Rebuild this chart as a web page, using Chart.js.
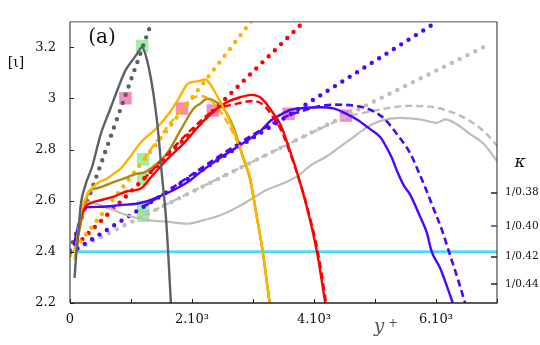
<!DOCTYPE html>
<html><head><meta charset="utf-8">
<script src="https://cdn.jsdelivr.net/npm/chart.js@4.4.0/dist/chart.umd.min.js"></script>
<style>html,body{margin:0;padding:0;background:#fff;}#wrap{width:540px;height:345px;position:relative;}</style>
</head><body><div id="wrap"><canvas id="c" width="540" height="345"></canvas></div>
<script>
// ---- data (x = y+, y = diagnostic function) ----
const darkGraySolid = [[74,2.298],[106,2.40],[139,2.475],[172,2.576],[254,2.662],[368,2.737],[499,2.857],[663,2.961],[794,3.044],[909,3.11],[1040,3.155],[1100,3.175],[1179,3.201],[1264,3.149],[1372,3.011],[1454,2.849],[1498,2.724],[1580,2.512],[1654,2.2]];
const orangeSolid = [[74,2.37],[106,2.426],[172,2.549],[226,2.593],[336,2.643],[445,2.668],[609,2.687],[717,2.706],[827,2.725],[991,2.774],[1146,2.824],[1428,2.886],[1646,2.949],[1809,3.011],[1929,3.058],[2083,3.067],[2219,3.074],[2301,3.055],[2437,2.999],[2574,2.936],[2682,2.874],[2792,2.805],[2902,2.724],[2944,2.699],[3054,2.549],[3160,2.4],[3272,2.2]];
const orangeDashed = [[1199,2.762],[1837,2.961],[1973,2.995],[2137,3.01],[2268,3.0],[2432,2.96],[2595,2.9],[2759,2.82],[2902,2.73],[2944,2.699],[3054,2.549],[3160,2.4],[3280,2.2]];
const oliveSolid = [[139,2.467],[205,2.542],[254,2.587],[308,2.637],[445,2.649],[663,2.668],[881,2.687],[1100,2.706],[1208,2.71],[1318,2.725],[1592,2.786],[1809,2.874],[2027,2.961],[2137,2.98],[2247,2.999],[2355,2.992],[2518,2.961],[2682,2.886],[2846,2.762],[2944,2.692],[3054,2.549],[3160,2.4],[3272,2.2]];
const redSolid = [[106,2.437],[172,2.531],[254,2.576],[364,2.593],[499,2.602],[717,2.616],[937,2.637],[1154,2.647],[1351,2.699],[1592,2.762],[1863,2.824],[2137,2.899],[2355,2.949],[2574,2.986],[2792,3.005],[2984,3.014],[3147,2.999],[3311,2.949],[3447,2.899],[3583,2.812],[3720,2.712],[3884,2.574],[4048,2.4],[4184,2.2]];
const redDashed = [[1199,2.683],[2342,2.951],[2497,2.968],[2682,2.976],[2846,2.986],[3010,2.99],[3174,2.974],[3337,2.924],[3463,2.875],[3594,2.795],[3733,2.7],[3900,2.565],[4064,2.4],[4200,2.2]];
const blueSolid = [[62,2.425],[144,2.512],[200,2.556],[282,2.574],[499,2.576],[827,2.583],[1154,2.591],[1428,2.613],[1700,2.642],[1973,2.68],[2137,2.712],[2464,2.768],[2792,2.818],[3119,2.872],[3283,2.912],[3447,2.936],[3611,2.955],[3884,2.964],[4102,2.966],[4320,2.961],[4539,2.939],[4703,2.918],[4921,2.88],[5085,2.849],[5167,2.818],[5276,2.768],[5358,2.718],[5466,2.662],[5576,2.624],[5740,2.537],[5849,2.475],[5931,2.4],[6067,2.337],[6275,2.2]];
const blueDashed = [[1199,2.576],[3583,2.934],[3775,2.949],[4048,2.968],[4320,2.976],[4593,2.974],[4867,2.961],[5138,2.924],[5358,2.861],[5576,2.786],[5740,2.699],[5849,2.637],[5931,2.587],[6095,2.487],[6231,2.387],[6367,2.287],[6477,2.2]];
const graySolid = [[282,2.595],[336,2.593],[609,2.574],[937,2.543],[1264,2.524],[1592,2.518],[1919,2.51],[2191,2.524],[2464,2.543],[2738,2.574],[3010,2.612],[3229,2.643],[3501,2.668],[3747,2.699],[3938,2.737],[4212,2.774],[4430,2.812],[4647,2.849],[4867,2.887],[5085,2.912],[5412,2.924],[5740,2.918],[6013,2.905],[6149,2.918],[6340,2.899],[6558,2.861],[6776,2.824],[7000,2.755]];
const grayDashed = [[1199,2.541],[4265,2.90],[4524,2.928],[4921,2.949],[5249,2.964],[5576,2.971],[5904,2.968],[6231,2.949],[6558,2.912],[6832,2.861],[7000,2.815]];
const darkGrayDotted = [[0,2.406],[1340,3.30]];
const orangeDotted = [[0,2.387],[2972,3.302]];
const redDotted = [[0,2.402],[3840,3.302]];
const blueDotted = [[0,2.395],[6029,3.302]];
const grayDotted = [[0,2.398],[6897,3.215]];
const cyanLevel = [[0,2.4],[7000,2.4]];
const pinkSquares = [[909,3.001],[1837,2.961],[2342,2.953],[3583,2.94],[4524,2.933]];
const greenSquares = [[1182,3.205],[1199,2.762],[1199,2.686],[1199,2.577],[1199,2.541]];
// ---- ticks ----
const xTicks = [0,1000,2000,3000,4000,5000,6000,7000];
const xTickLabels = ['0','','2.10\u00B3','','4.10\u00B3','','6.10\u00B3',''];
const yTicks = [2.2,2.4,2.6,2.8,3,3.2];
const kappaTicks = [1/0.38,1/0.40,1/0.42,1/0.44];
const kappaLabels = ['1/0.38','1/0.40','1/0.42','1/0.44'];

const SERIF = "'DejaVu Serif','Liberation Serif',serif";
const C = {dark:'#5b6166', orange:'#FFB300', olive:'#B08A12', red:'#FF0000', blue:'#4A06FF', gray:'#BDBDBD', cyan:'#52D8F4'};

function pts(a){return a.map(p=>({x:p[0],y:p[1]}));}
function solid(d,c,w,o){return {data:pts(d),borderColor:c,borderWidth:w,pointRadius:0,fill:false,cubicInterpolationMode:'monotone',order:o};}
function dashed(d,c,w,o){return {data:pts(d),borderColor:c,borderWidth:w,borderDash:[7,4],pointRadius:0,fill:false,cubicInterpolationMode:'monotone',order:o};}
function dotted(d,c){return {data:pts(d),borderColor:c,borderWidth:4.4,borderDash:[0,8.7],borderCapStyle:'round',pointRadius:0,fill:false,tension:0,order:8};}
function squares(d,c){return {data:pts(d),showLine:false,pointStyle:'rect',pointRadius:8.8,pointHoverRadius:8.8,pointBackgroundColor:c,pointBorderColor:'rgba(0,0,0,0)',pointBorderWidth:0,order:20};}

const datasets = [
  solid(darkGraySolid,C.dark,2.4,1),
  solid(orangeSolid,C.orange,2.4,3),
  dashed(orangeDashed,C.orange,2.4,2),
  solid(oliveSolid,C.olive,2.4,4),
  solid(redSolid,C.red,2.4,3),
  dashed(redDashed,C.red,2.4,2),
  solid(blueSolid,C.blue,2.4,3),
  dashed(blueDashed,C.blue,2.6,2),
  solid(graySolid,C.gray,2.2,6),
  dashed(grayDashed,C.gray,2.4,6),
  dotted(darkGrayDotted,C.dark),
  dotted(orangeDotted,C.orange),
  dotted(redDotted,C.red),
  dotted(blueDotted,C.blue),
  dotted(grayDotted,C.gray),
  {data:pts(cyanLevel),borderColor:C.cyan,borderWidth:3,pointRadius:0,tension:0,order:15},
  squares(pinkSquares,'rgba(242,110,175,0.8)'),
  squares(greenSquares,'rgba(130,235,130,0.75)')
];

const decor = {id:'decor', afterDraw(chart){
  const ctx=chart.ctx, a=chart.chartArea, sx=chart.scales.x, sy=chart.scales.y, sk=chart.scales.y1;
  ctx.save();
  ctx.lineCap='butt';
  ctx.strokeStyle='#8c8c8c'; ctx.lineWidth=1.5;
  ctx.beginPath(); ctx.moveTo(a.left,a.top); ctx.lineTo(a.right,a.top); ctx.stroke();
  ctx.strokeStyle='#222'; ctx.lineWidth=1;
  ctx.beginPath(); ctx.moveTo(a.left,a.top); ctx.lineTo(a.left,a.bottom); ctx.stroke();
  ctx.beginPath(); ctx.moveTo(a.right,a.top); ctx.lineTo(a.right,a.bottom+0.5); ctx.stroke();
  ctx.lineWidth=1.5;
  ctx.beginPath(); ctx.moveTo(a.left,a.bottom); ctx.lineTo(a.right,a.bottom); ctx.stroke();
  ctx.lineWidth=1; ctx.strokeStyle='#222';
  xTicks.forEach(v=>{const px=Math.round(sx.getPixelForValue(v))+0.5; ctx.beginPath(); ctx.moveTo(px,a.bottom); ctx.lineTo(px,a.bottom-4); ctx.stroke();});
  yTicks.forEach(v=>{const py=Math.round(sy.getPixelForValue(v))+0.5; ctx.beginPath(); ctx.moveTo(a.left,py); ctx.lineTo(a.left+4,py); ctx.stroke();});
  ctx.lineWidth=1.5;
  kappaTicks.forEach((v,i)=>{const py=Math.round(sk.getPixelForValue(v)); ctx.strokeStyle=(i===1)?'#2a3cc8':'#222'; ctx.beginPath(); ctx.moveTo(a.right-6,py); ctx.lineTo(a.right,py); ctx.stroke();});
  ctx.fillStyle='#111'; ctx.textAlign='center'; ctx.textBaseline='middle';
  ctx.font='20px '+SERIF; ctx.fillText('(a)',102,38);
  ctx.font='14px '+SERIF; ctx.fillText('[\u03B9]',16,63);
  ctx.font='italic 17px '+SERIF; ctx.fillText('\u03BA',520,163);
  ctx.textAlign='left'; ctx.textBaseline='alphabetic';
  ctx.fillStyle='#555';
  ctx.font='italic 18px '+SERIF; ctx.fillText('y',374,332);
  ctx.font='12px '+SERIF; ctx.fillText('+',388,327);
  ctx.restore();
}};

new Chart(document.getElementById('c'), {
  type:'line',
  data:{datasets},
  options:{
    responsive:false, animation:false, devicePixelRatio:1,
    layout:{padding:{top:9,left:0,right:0,bottom:0}},
    plugins:{legend:{display:false},tooltip:{enabled:false}},
    scales:{
      x:{type:'linear',position:'bottom',min:0,max:7000,
        grid:{display:false,drawTicks:false},border:{display:false},
        afterBuildTicks:s=>{s.ticks=xTicks.map(v=>({value:v}));},
        afterFit:s=>{s.height=42;},
        ticks:{autoSkip:false,maxRotation:0,padding:9,color:'#111',font:{family:SERIF,size:13},callback:(v,i)=>xTickLabels[i]}},
      y:{type:'linear',position:'left',min:2.2,max:3.3,
        grid:{display:false,drawTicks:false},border:{display:false},
        afterBuildTicks:s=>{s.ticks=yTicks.map(v=>({value:v}));},
        afterFit:s=>{s.width=70;},
        ticks:{padding:14,color:'#111',font:{family:SERIF,size:13},callback:v=>String(v)}},
      y1:{type:'linear',position:'right',min:2.2,max:3.3,
        grid:{display:false,drawTicks:false},border:{display:false},
        afterBuildTicks:s=>{s.ticks=kappaTicks.map(v=>({value:v}));},
        afterFit:s=>{s.width=43;},
        ticks:{padding:8,color:'#111',font:{family:SERIF,size:10.5},callback:(v,i)=>kappaLabels[i]}}
    }
  },
  plugins:[decor]
});
</script></body></html>
